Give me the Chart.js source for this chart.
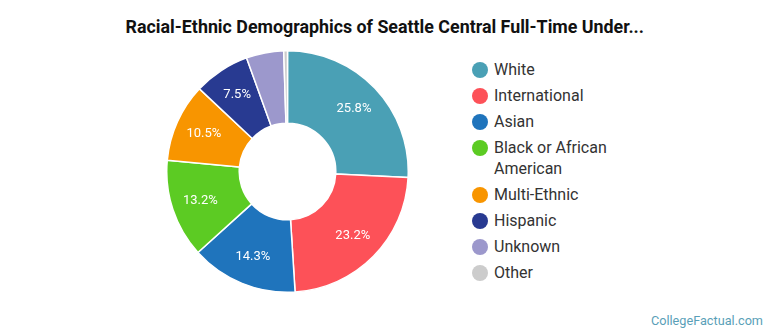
<!DOCTYPE html>
<html>
<head>
<meta charset="utf-8">
<script src="https://cdn.jsdelivr.net/npm/chart.js@4/dist/chart.umd.min.js"></script>
<style>
  html, body { margin: 0; padding: 0; background: #fff; }
  body { width: 770px; height: 335px; position: relative; overflow: hidden; font-family: Roboto, "Open Sans", sans-serif; }
  #title {
    position: absolute; left: 0; top: 16px; width: 770px; text-align: center;
    font: bold 18px Roboto, sans-serif; color: #111; white-space: nowrap;
  }
  #title span { display: inline-block; transform: scaleX(0.99); transform-origin: center; }
  #pie { position: absolute; left: 166px; top: 50px; width: 243px; height: 243px; }
  #legend { position: absolute; left: 472px; top: 59px; width: 160px; margin: 0; padding: 0; list-style: none; }
  #legend li { position: relative; padding-left: 22px; margin-bottom: 5px; font-size: 16px; line-height: 21px; color: #333; width: 130px; }
  #legend li i { position: absolute; left: 0; top: 2.5px; width: 16px; height: 16px; border-radius: 50%; }
  #brand { position: absolute; right: 7px; top: 313px; font-size: 12.7px; color: #5a9fb8; }
</style>
</head>
<body>
<div id="title"><span>Racial-Ethnic Demographics of Seattle Central Full-Time Under...</span></div>
<div id="pie"><canvas id="c"></canvas></div>
<ul id="legend"></ul>
<div id="brand">CollegeFactual.com</div>
<script>
const categories = ["White", "International", "Asian", "Black or African American", "Multi-Ethnic", "Hispanic", "Unknown", "Other"];
const shares = [25.8, 23.2, 14.3, 13.2, 10.5, 7.5, 5.0, 0.5];
const colors = ["#4aa0b5", "#fd5158", "#1f74bc", "#5ccb23", "#f89500", "#283a91", "#9c98cc", "#cccccc"];
const labelMin = 7;

// legend list
const legend = document.getElementById("legend");
categories.forEach((name, i) => {
  const li = document.createElement("li");
  const dot = document.createElement("i");
  dot.style.background = colors[i];
  li.appendChild(dot);
  li.appendChild(document.createTextNode(name));
  legend.appendChild(li);
});

// percentage labels inside the wedges
const sliceLabels = {
  id: "sliceLabels",
  afterDatasetsDraw(chart) {
    const ctx = chart.ctx;
    const meta = chart.getDatasetMeta(0);
    ctx.save();
    ctx.font = "13px Roboto, sans-serif";
    ctx.fillStyle = "#fff";
    ctx.textAlign = "center";
    ctx.textBaseline = "middle";
    meta.data.forEach((arc, i) => {
      const v = shares[i];
      if (v < labelMin) return;
      const p = arc.getProps(["x", "y", "startAngle", "endAngle", "innerRadius", "outerRadius"], true);
      const a = (p.startAngle + p.endAngle) / 2;
      const r = p.innerRadius + 0.6 * (p.outerRadius - p.innerRadius);
      ctx.fillText(v.toFixed(1) + "%", p.x + Math.cos(a) * r, p.y + Math.sin(a) * r);
    });
    ctx.restore();
  }
};

new Chart(document.getElementById("c"), {
  type: "doughnut",
  data: {
    labels: categories,
    datasets: [{
      data: shares,
      backgroundColor: colors,
      borderColor: "#fff",
      borderWidth: 1.5
    }]
  },
  options: {
    responsive: true,
    maintainAspectRatio: false,
    animation: false,
    cutout: "40%",
    layout: { padding: 0 },
    plugins: { legend: { display: false }, tooltip: { enabled: false }, title: { display: false } }
  },
  plugins: [sliceLabels]
});
</script>
</body>
</html>
